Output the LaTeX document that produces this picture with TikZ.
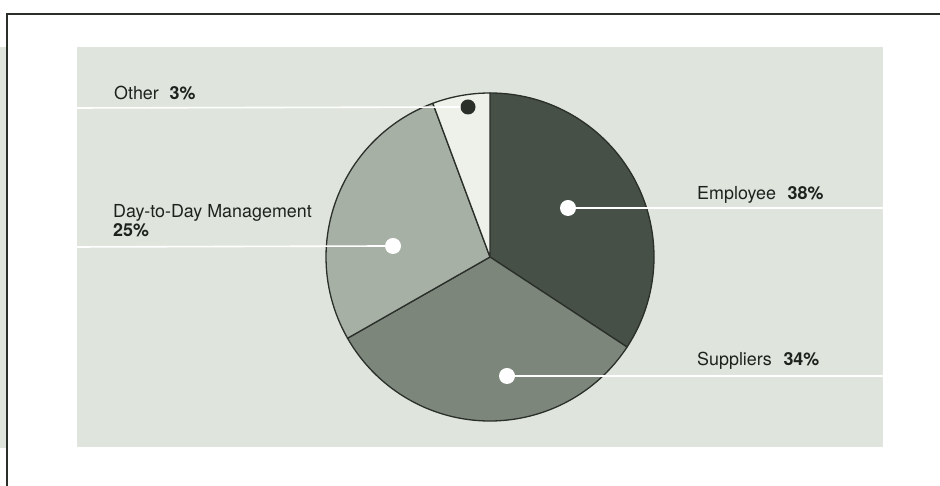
\documentclass[tikz,border=0pt]{standalone}
\usepackage{fontspec}
\setmainfont{TeX Gyre Heros}
\definecolor{bggray}{HTML}{DFE5DC}
\definecolor{frameclr}{HTML}{2A2F2A}
\definecolor{empclr}{HTML}{465046}
\definecolor{supclr}{HTML}{7C867B}
\definecolor{dayclr}{HTML}{A7B0A4}
\definecolor{othclr}{HTML}{EEF0EA}
\definecolor{txtclr}{HTML}{1E221E}
\tikzset{
  slice/.style={draw=frameclr,line width=1.3pt,line join=round},
  wdot/.style={circle,fill=white,minimum size=16pt,inner sep=0pt},
  bdot/.style={circle,fill=frameclr,minimum size=15pt,inner sep=0pt},
  leader/.style={draw=white,line width=1.6pt},
  lbl/.style={anchor=base west,inner sep=0pt,text=txtclr,font=\fontsize{17.9}{19}\selectfont},
  framel/.style={draw=frameclr,line width=1.6pt}
}
\begin{document}
\begin{tikzpicture}[x=1pt,y=1pt]
\useasboundingbox (0,0) rectangle (940,486);
% left strip and background panel
\fill[bggray] (0,38) rectangle (6,439);
\fill[bggray] (77,39) rectangle (883,439);
% frame
\draw[framel] (7,0) -- (7,472) -- (940,472);
% pie
\coordinate (c) at (490,229);
\def\R{164}
\filldraw[slice,fill=empclr] (c) -- ++(90:\R) arc[start angle=90,end angle=-33.3,radius=\R] -- cycle;
\filldraw[slice,fill=supclr] (c) -- ++(-33.3:\R) arc[start angle=-33.3,end angle=-150.3,radius=\R] -- cycle;
\filldraw[slice,fill=dayclr] (c) -- ++(209.7:\R) arc[start angle=209.7,end angle=110.4,radius=\R] -- cycle;
\filldraw[slice,fill=othclr] (c) -- ++(110.4:\R) arc[start angle=110.4,end angle=90,radius=\R] -- cycle;
% dots
\node[bdot] (dOth) at (468,379) {};
\node[wdot] (dEmp) at (568,278) {};
\node[wdot] (dDay) at (393,240) {};
\node[wdot] (dSup) at (507,110) {};
% leader ends
\coordinate (eOth) at (77,378);
\coordinate (eEmp) at (883,278);
\coordinate (eDay) at (77,239);
\coordinate (eSup) at (883,110);
\draw[leader] (eOth) -- (dOth.west);
\draw[leader] (dEmp.east) -- (eEmp);
\draw[leader] (eDay) -- (dDay.west);
\draw[leader] (dSup.east) -- (eSup);
% labels
\node[lbl] (lOth) at (114,386) {Other\hspace{0.6em}\textbf{3\%}};
\node[lbl] (lDay) at (113,268) {Day-to-Day Management};
\node[lbl] (lDayP) at (113,249) {\textbf{25\%}};
\node[lbl] (lEmp) at (697,286) {Employee\hspace{0.65em}\textbf{38\%}};
\node[lbl] (lSup) at (697,120) {Suppliers\hspace{0.65em}\textbf{34\%}};
\end{tikzpicture}
\end{document}
